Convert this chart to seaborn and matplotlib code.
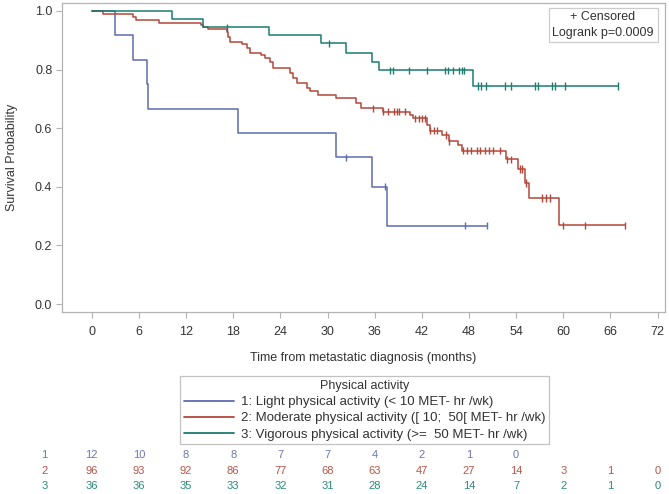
import numpy as np
import pandas as pd
import matplotlib
matplotlib.use("Agg")
import matplotlib.pyplot as plt
import matplotlib.transforms as mtransforms
from matplotlib.lines import Line2D
import seaborn as sns

# ---------------- data ----------------
groups = ["1", "2", "3"]
legend_labels = [
    "1: Light physical activity (< 10 MET- hr /wk)",
    "2: Moderate physical activity ([ 10;  50[ MET- hr /wk)",
    "3: Vigorous physical activity (>=  50 MET- hr /wk)",
]

# group 1 : light
g1_event_t = [3.0, 5.2, 7.05, 7.2, 18.6, 31.1, 35.6, 37.6]
g1_event_s = [0.917, 0.833, 0.750, 0.667, 0.583, 0.500, 0.400, 0.267]
g1_cens_t = [32.4, 37.3, 47.5, 50.3]

# group 2 : moderate
g2_event_t = [1.4, 5.2, 5.6, 8.6, 13.9, 14.2, 14.8, 17.2, 17.4, 17.6, 19.1, 19.7,
              20.1, 21.6, 22.0, 22.7, 23.1, 25.2, 25.6, 26.1, 27.4, 27.8, 28.8,
              31.1, 33.6, 34.3, 37.0, 40.5, 40.9, 42.6, 43.0, 44.6, 45.4, 46.6,
              47.1, 52.7, 54.2, 55.1, 55.7, 59.4]
g2_event_s = [0.990, 0.979, 0.969, 0.958, 0.951, 0.944, 0.938, 0.927, 0.912, 0.895,
              0.886, 0.873, 0.856, 0.848, 0.839, 0.827, 0.804, 0.787, 0.770, 0.753,
              0.738, 0.726, 0.713, 0.702, 0.685, 0.668, 0.656, 0.645, 0.634, 0.611,
              0.591, 0.577, 0.555, 0.541, 0.523, 0.494, 0.461, 0.413, 0.362, 0.269]
g2_cens_t = [35.8, 37.1, 37.7, 38.4, 38.9, 39.1, 39.9, 41.1, 41.6, 42.0, 42.4, 43.1,
             43.5, 43.9, 45.1, 45.4, 47.3, 47.7, 48.3, 49.0, 49.4, 50.0, 50.5, 51.1,
             51.9, 52.9, 53.3, 54.5, 54.8, 55.3, 57.3, 57.8, 58.3, 60.0, 62.7, 67.8]

# group 3 : vigorous
g3_event_t = [10.2, 14.1, 22.5, 29.2, 32.4, 35.7, 36.5, 48.5]
g3_event_s = [0.972, 0.944, 0.917, 0.889, 0.858, 0.827, 0.797, 0.744]
g3_cens_t = [17.2, 30.2, 37.9, 38.3, 40.4, 42.6, 44.9, 45.3, 46.0, 46.7, 47.1, 47.4,
             49.1, 49.5, 50.2, 52.6, 53.4, 56.4, 56.8, 58.5, 59.0, 60.2, 67.0]

# number at risk
risk_times = [0, 6, 12, 18, 24, 30, 36, 42, 48, 54, 60, 66, 72]
risk_g1 = [12, 10, 8, 8, 7, 7, 4, 2, 1, 0]
risk_g2 = [96, 93, 92, 86, 77, 68, 63, 47, 27, 14, 3, 1, 0]
risk_g3 = [36, 36, 35, 33, 32, 31, 28, 24, 14, 7, 2, 1, 0]

x_ticks = [0, 6, 12, 18, 24, 30, 36, 42, 48, 54, 60, 66, 72]
y_ticks = [0.0, 0.2, 0.4, 0.6, 0.8, 1.0]

# ---------------- build tables ----------------
events = {"1": (g1_event_t, g1_event_s), "2": (g2_event_t, g2_event_s),
          "3": (g3_event_t, g3_event_s)}
censors = {"1": g1_cens_t, "2": g2_cens_t, "3": g3_cens_t}

step_rows, cens_rows = [], []
for g in groups:
    et, es = events[g]
    t = [0.0] + list(et)
    s = [1.0] + list(es)
    last = max(censors[g]) if censors[g] else t[-1]
    t.append(max(last, t[-1]))
    s.append(s[-1])
    for ti, si in zip(t, s):
        step_rows.append((g, ti, si))
    et_arr = np.array([0.0] + list(et))
    es_arr = np.array([1.0] + list(es))
    for c in censors[g]:
        idx = np.searchsorted(et_arr, c, side="right") - 1
        cens_rows.append((g, c, es_arr[idx]))

steps = pd.DataFrame(step_rows, columns=["group", "time", "surv"])
cens = pd.DataFrame(cens_rows, columns=["group", "time", "surv"])

# ---------------- style ----------------
sns.set_theme(style="ticks")
plt.rcParams["font.family"] = ["Liberation Sans", "DejaVu Sans"]

line_colors = {"1": "#5f6bb0", "2": "#b4473b", "3": "#1b7d70"}
text_colors = {"1": "#6a78b8", "2": "#b85548", "3": "#2b8a7c"}
frame_col = "#b3b3b3"
tick_text = "#333333"

W, H = 669, 494
fig = plt.figure(figsize=(W / 100, H / 100), dpi=100)
ax = fig.add_axes([62 / W, 1 - 312 / H, (665 - 62) / W, (312 - 3) / H])

sns.lineplot(data=steps, x="time", y="surv", hue="group", palette=line_colors,
             estimator=None, sort=False, drawstyle="steps-post", linewidth=1.1,
             legend=False, ax=ax)
sns.scatterplot(data=cens, x="time", y="surv", hue="group", palette=line_colors,
                marker="|", s=28, linewidth=1.0, legend=False, ax=ax, zorder=3)

ax.set_xlim(-3.78, 72.94)
ax.set_ylim(-0.027, 1.027)
ax.set_xticks(x_ticks)
ax.set_xticklabels([str(v) for v in x_ticks])
ax.set_yticks(y_ticks)
ax.set_yticklabels([f"{v:.1f}" for v in y_ticks])
ax.tick_params(axis="both", which="major", direction="out", length=4, width=0.8,
               color=frame_col, labelsize=9, labelcolor=tick_text, pad=3,
               bottom=True, left=True, top=False, right=False)
ax.tick_params(axis="x", pad=6)
for sp in ax.spines.values():
    sp.set_visible(True)
    sp.set_color(frame_col)
    sp.set_linewidth(0.9)

ax.set_xlabel("Time from metastatic diagnosis (months)", fontsize=9, color=tick_text,
              labelpad=10)
ax.set_ylabel("Survival Probability", fontsize=9, color=tick_text, labelpad=12)

# inset box
fig.text(603 / W, 1 - 25 / H, "+ Censored\nLogrank p=0.0009", ha="center", va="center",
         fontsize=9, color=tick_text, linespacing=1.35,
         bbox=dict(boxstyle="square,pad=0.3", fc="white", ec="#cccccc", lw=0.9))

# bottom legend
handles = [Line2D([0], [0], color=line_colors[g], lw=1.3) for g in groups]
leg = fig.legend(handles, legend_labels, title="Physical activity",
                 loc="upper center", bbox_to_anchor=(364.5 / W, 1 - 376 / H),
                 frameon=True, fancybox=False, edgecolor=frame_col,
                 fontsize=9.5, title_fontsize=9, handlelength=3.8,
                 handletextpad=0.5, labelspacing=0.3, borderpad=0.3,
                 borderaxespad=0)
leg.get_frame().set_linewidth(0.9)
for t in leg.get_texts():
    t.set_color(tick_text)
leg.get_title().set_color(tick_text)

# number-at-risk table
trans = mtransforms.blended_transform_factory(ax.transData, fig.transFigure)
rows_y = {"1": 455, "2": 471, "3": 486}
risks = {"1": risk_g1, "2": risk_g2, "3": risk_g3}
for g in groups:
    y = 1 - rows_y[g] / H
    ax.text(-6, y, g, transform=trans, ha="center", va="center", fontsize=8,
            color=text_colors[g], clip_on=False)
    for tm, n in zip(risk_times, risks[g]):
        ax.text(tm, y, str(n), transform=trans, ha="center", va="center", fontsize=8,
                color=text_colors[g], clip_on=False)

fig.savefig("out.png", dpi=100)
